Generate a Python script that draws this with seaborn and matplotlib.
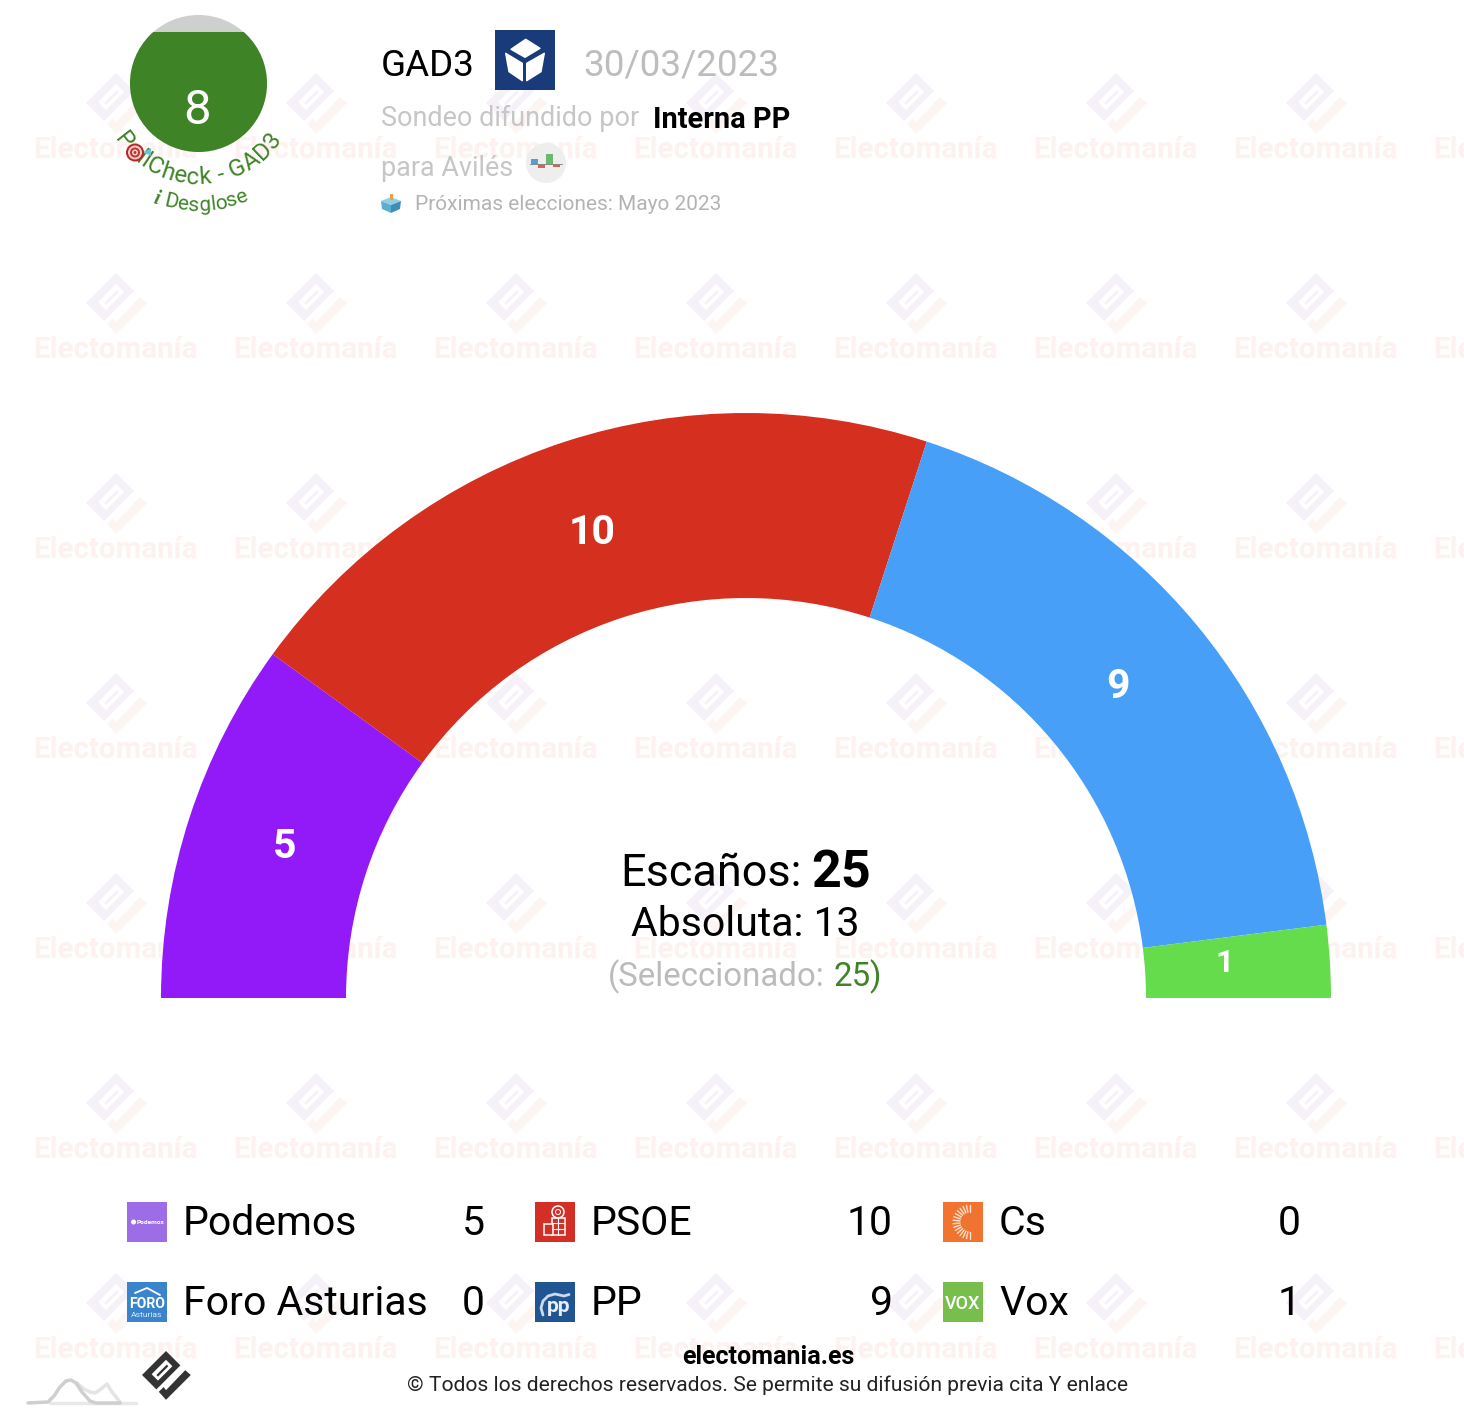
import numpy as np
import seaborn as sns
import matplotlib.pyplot as plt
from matplotlib.font_manager import FontProperties
from matplotlib.patches import Circle, Polygon, Rectangle
from matplotlib.textpath import TextPath

# --- DATA ---
PARTIES = ["Podemos", "Foro Asturias", "PSOE", "PP", "Cs", "Vox"]
SEATS = [5, 0, 10, 9, 0, 1]
ARC_COLORS = ["#921AF8", "#2F7FD0", "#D42F1F", "#479FF8", "#F27430", "#64DC4C"]
SWATCH_COLORS = ["#9D6DE8", "#3A84CB", "#D32F27", "#215493", "#F0732F", "#78BE4D"]
TOTAL_SEATS = 25
MAJORITY = 13
SELECTED = 25
POLL_SCORE = "8"
POLLSTER = "GAD3"
POLL_DATE = "30/03/2023"
PUBLISHER = "Interna PP"
CITY = "Avilés"
NEXT_ELECTION = "Próximas elecciones: Mayo 2023"

# small shifts so the seat labels land where the source has them
LABEL_NUDGE = {"Podemos": (7, 1), "PSOE": (-2, 3), "PP": (-7, 3), "Vox": (-13, -4)}

W, H = 1464, 1420
GREEN = "#3E8427"
FONT = "Roboto"


def pt(px):
    return px * 0.72


def put(ax, x, y, s, size, color="black", weight="normal", ha="left", **kw):
    return ax.text(x, y, s, fontsize=pt(size), color=color, fontweight=weight,
                   ha=ha, va="baseline", **kw)


def draw_logo(ax, cx, cy, scale, body, tail, slot, zorder):
    """Electomania diamond mark, centred on (cx, cy)."""
    def shape(points):
        return [(cx + px * scale, cy + py * scale) for px, py in points]
    ax.add_patch(Polygon(shape([(0, -30), (18, -12), (-12, 18), (-30, 0)]), fc=body, lw=0, zorder=zorder))
    ax.add_patch(Polygon(shape([(0, -19), (8, -11), (-10, 7), (-18, -1)]), fc=slot, lw=0, zorder=zorder))
    ax.add_patch(Polygon(shape([(1, -13), (3, -11), (-10, 2), (-12, 0)]), fc=body, lw=0, zorder=zorder))
    ax.add_patch(Polygon(shape([(24, -6), (31, 0), (0, 31), (-9, 21), (-3, 15), (0, 19)]),
                         fc=tail, lw=0, zorder=zorder))


def curved_text(ax, s, cx, cy, radius, mid_angle, size, color, spacing=0.0):
    """Text on the lower part of a circle, tops of the letters towards the centre."""
    prop = FontProperties(family=FONT, size=pt(size))
    base = TextPath((0, 0), "xx", prop=prop).get_extents().width
    widths = []
    for ch in s:
        full = TextPath((0, 0), "x" + ch + "x", prop=prop).get_extents().width
        widths.append((full - base) / 0.72 + spacing)
    pos = -sum(widths) / 2
    for ch, w in zip(s, widths):
        a = np.radians(mid_angle - (pos + w / 2) / radius * 180 / np.pi)
        x = cx + radius * np.cos(a)
        y = cy + radius * np.sin(a)
        ax.text(x, y, ch, fontsize=pt(size), color=color, ha="center", va="baseline",
                rotation=90 - np.degrees(a), rotation_mode="anchor", zorder=5)
        pos += w


def main():
    sns.set_theme(style="white")
    plt.rcParams["font.family"] = [FONT, "DejaVu Sans"]

    fig = plt.figure(figsize=(W / 100, H / 100), dpi=100, facecolor="white")
    ax = fig.add_axes([0, 0, 1, 1])

    # half donut: the hidden slice below the baseline takes the other half
    palette = sns.color_palette(ARC_COLORS)
    wedges, _ = ax.pie(
        SEATS + [sum(SEATS)],
        colors=palette + [(1, 1, 1)],
        center=(746, 998),
        radius=585,
        startangle=180,
        counterclock=True,
        frame=True,
        wedgeprops={"width": 185, "linewidth": 0},
    )
    wedges[-1].set_visible(False)
    for w in wedges:
        w.set_zorder(2)

    ax.set_xlim(0, W)
    ax.set_ylim(H, 0)
    ax.set_aspect("auto")
    ax.axis("off")

    # seat numbers in the middle of each band
    for party, seats, w in zip(PARTIES, SEATS, wedges):
        if seats == 0:
            continue
        a = np.radians((w.theta1 + w.theta2) / 2)
        dx, dy = LABEL_NUDGE.get(party, (0, 0))
        ax.text(746 + 492.5 * np.cos(a) + dx, 998 + 492.5 * np.sin(a) + dy, str(seats),
                fontsize=pt(32 if seats == 1 else 41), color="white", fontweight="bold",
                ha="center", va="center", zorder=3)

    # watermark grid
    for wy in range(148, 1420, 200):
        for wx in range(116, 1560, 200):
            draw_logo(ax, wx, wy - 45, 1.0, "#F6F1F9", "#FCF5F2", "#FFFFFF", 0)
            ax.text(wx - 0.5, wy + 10, "Electomanía", fontsize=pt(29.5), color="#FDF2EF",
                    fontweight="bold", ha="center", va="baseline", zorder=0, clip_on=True)

    # poll check gauge
    gauge = Circle((198.5, 83.5), 68.5, fc="#CFCFCF", lw=0, zorder=3)
    ax.add_patch(gauge)
    level = Rectangle((125, 32), 150, 125, fc=GREEN, lw=0, zorder=4)
    ax.add_patch(level)
    level.set_clip_path(gauge)
    put(ax, 197.5, 124, POLL_SCORE, 49, color="white", ha="center", zorder=5)
    curved_text(ax, "PollCheck - " + POLLSTER, 198, 83, 101, 90, 24, GREEN, spacing=0.8)
    curved_text(ax, "Desglose", 198, 83, 128, 86, 21, GREEN, spacing=0.2)
    ax.text(155, 204, "i", fontsize=pt(20), color=GREEN, fontweight="bold", style="italic",
            family="Liberation Serif", rotation=-16, rotation_mode="anchor", ha="center",
            va="baseline", zorder=5)
    # target with dart
    ax.add_patch(Polygon([(137, 152), (146, 151), (151, 148), (151, 156), (146, 153.5), (137, 153)],
                         fc="#6FC3D6", lw=0, zorder=6))
    for r, c in [(9, "#B3282A"), (7, "#E8CFCB"), (5, "#C9302C"), (3, "#F3D6D2"), (1.5, "#C9302C")]:
        ax.add_patch(Circle((135, 152.5), r, fc=c, lw=0, zorder=6))

    # header
    put(ax, 381, 76, POLLSTER, 36.8, zorder=5)
    put(ax, 583.5, 76, POLL_DATE, 36.8, color="#BDBDBD", zorder=5)
    ax.add_patch(Rectangle((495, 30), 60, 60, fc="#1A3B7A", lw=0, zorder=5))
    for face in ([(525.7, 39.3), (540, 48.3), (525, 57.3), (511, 49.3)],
                 [(505.7, 53.3), (522.3, 63.3), (522.3, 80.7), (509, 71.7)],
                 [(544.3, 53.3), (526.7, 63.3), (526.7, 80.7), (541, 71.7)]):
        ax.add_patch(Polygon(face, fc="white", ec="white", lw=1, joinstyle="round", zorder=6))
    put(ax, 381, 126.5, "Sondeo difundido por", 27, color="#C6C6C6", zorder=5)
    put(ax, 653, 127.5, PUBLISHER, 29, weight="bold", zorder=5)
    put(ax, 381, 176, "para " + CITY, 27, color="#C6C6C6", zorder=5)
    ax.add_patch(Circle((546, 163), 20, fc="#EEEEEE", lw=0, zorder=5))
    for bx, by, bw, bh, c in [(531, 159, 6.5, 5, "#5B9BD5"), (538, 164, 7, 4, "#D9604A"),
                              (546, 154, 6.5, 10, "#6DB86F"), (553, 164, 7, 3, "#D9604A")]:
        ax.add_patch(Rectangle((bx, by), bw, bh, fc=c, lw=0, zorder=6))
    ax.plot([530, 562], [164, 164], color="#888888", lw=0.7, zorder=6)
    put(ax, 415, 210, NEXT_ELECTION, 20.9, color="#B3B3B3", zorder=5)
    ax.add_patch(Polygon([(391, 197), (401, 201), (391, 205), (381, 201)], fc="#8FD0E6", lw=0, zorder=5))
    ax.add_patch(Polygon([(381, 201), (391, 205), (391, 213), (382, 209)], fc="#5DAFD0", lw=0, zorder=5))
    ax.add_patch(Polygon([(401, 201), (391, 205), (391, 213), (400, 209)], fc="#3E8FB5", lw=0, zorder=5))
    ax.add_patch(Rectangle((389.5, 194), 3, 6, fc="#E8A04C", lw=0, zorder=6))

    # centre block
    put(ax, 620.5, 886, "Escaños:", 45, zorder=5)
    put(ax, 811.5, 887, str(TOTAL_SEATS), 52, weight="bold", zorder=5)
    put(ax, 745.5, 936, f"Absoluta: {MAJORITY}", 41, ha="center", zorder=5)
    put(ax, 608, 986, "(Seleccionado:", 33, color="#BBBBBB", zorder=5)
    put(ax, 833.5, 986, str(SELECTED), 33, color=GREEN, zorder=5)
    put(ax, 869.5, 986, ")", 33, color=GREEN, zorder=5)

    # legend, filled column by column
    for i, (party, seats, color) in enumerate(zip(PARTIES, SEATS, SWATCH_COLORS)):
        col, row = i // 2, i % 2
        x0 = 127 + 408 * col
        y0 = 1202 + 80 * row
        ax.add_patch(Rectangle((x0, y0), 40, 40, fc=color, lw=0, zorder=5))
        put(ax, x0 + 56, y0 + 33, party, 41, zorder=5)
        put(ax, x0 + 358, y0 + 33, str(seats), 41, ha="right", zorder=5)

    # tiny party marks on the swatches
    ax.add_patch(Circle((133.5, 1222), 2.5, fc="white", lw=0, zorder=6))
    put(ax, 137, 1224, "Podemos", 6.5, color="white", weight="bold", zorder=6)
    ax.plot([135, 147, 160], [1293, 1288, 1295], color="white", lw=1.3, zorder=6)
    put(ax, 147, 1308.5, "FORO", 14, color="white", weight="bold", ha="center", zorder=6)
    put(ax, 147, 1317, "Asturias", 8.5, color="#DDE9F6", ha="center", zorder=6)
    # PSOE fist and rose
    ax.add_patch(Circle((558, 1212), 6, fc="none", ec="white", lw=1.1, zorder=6))
    ax.add_patch(Circle((558, 1212), 2.5, fc="none", ec="white", lw=0.7, zorder=6))
    ax.add_patch(Rectangle((551.5, 1218), 13, 17, fc="none", ec="white", lw=1.1, zorder=6))
    ax.add_patch(Rectangle((544, 1224), 9, 11, fc="#D32F27", ec="white", lw=1.1, zorder=6))
    ax.plot([552, 564], [1223, 1223], color="white", lw=0.8, zorder=6)
    ax.plot([552, 564], [1229, 1229], color="white", lw=0.8, zorder=6)
    ax.plot([558, 558], [1218, 1235], color="white", lw=0.8, zorder=6)
    # PP gull
    put(ax, 559, 1312, "pp", 21, color="#E6EEF7", weight="bold", ha="center", zorder=6)
    ax.plot([543, 541, 543, 548, 555, 564, 569],
            [1315, 1308, 1301, 1296, 1294, 1296, 1294.5], color="#C9DBEE", lw=2, zorder=6)
    put(ax, 963, 1309, "VOX", 18, color="white", weight="medium", ha="center", zorder=6)
    for ang in np.arange(90, 271, 12):
        r = np.radians(ang)
        ax.plot([970 + 10 * np.cos(r), 970 + 17 * np.cos(r)],
                [1222 + 10 * np.sin(r), 1222 + 17 * np.sin(r)],
                color="#FBE3D3", lw=1, zorder=6)

    # footer
    put(ax, 768, 1364.5, "electomania.es", 25, weight="bold", ha="center", zorder=5)
    put(ax, 767.5, 1391, "© Todos los derechos reservados. Se permite su difusión previa cita Y enlace",
        20.95, color="#222222", ha="center", zorder=5)
    draw_logo(ax, 166, 1375, 0.8, "#333333", "#333333", "#FFFFFF", 5)
    ax.plot([50, 136], [1403, 1403], color="#E8E8E8", lw=2.5, zorder=5)
    ax.plot([77, 84, 90, 95, 101, 107, 112, 120],
            [1383, 1389, 1392, 1393, 1389, 1384, 1392, 1402], color="#E4E4E4", lw=2.5,
            solid_joinstyle="round", zorder=5)
    ax.plot([28, 48, 54, 60, 66, 71, 76, 82, 90, 96, 120],
            [1403, 1402, 1396, 1387, 1381, 1380, 1383, 1392, 1401, 1403, 1403], color="#CFCFCF", lw=2.5,
            solid_joinstyle="round", zorder=5)

    fig.savefig("out.png", dpi=100)


if __name__ == "__main__":
    main()
